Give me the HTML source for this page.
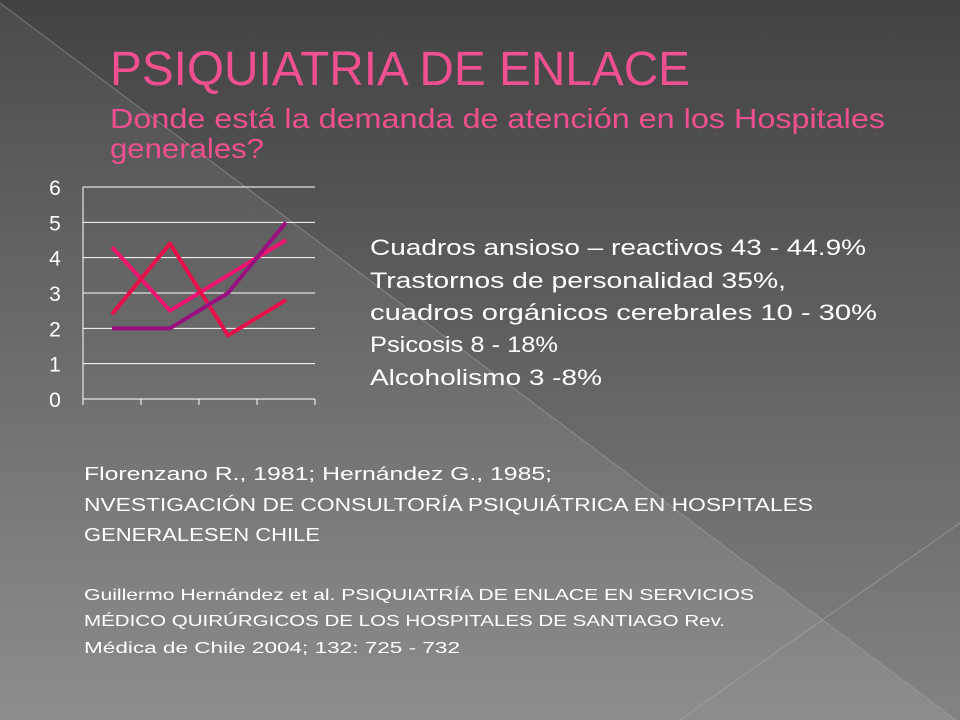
<!DOCTYPE html>
<html><head><meta charset="utf-8"><style>
html,body{margin:0;padding:0;width:960px;height:720px;overflow:hidden;}
body{font-family:"Liberation Sans","DejaVu Sans",sans-serif;}
</style></head><body>
<svg width="960" height="720" viewBox="0 0 960 720" xmlns="http://www.w3.org/2000/svg">
<defs>
<linearGradient id="bg" x1="0" y1="0" x2="0" y2="1">
<stop offset="0" stop-color="#464646"/><stop offset="1" stop-color="#8a8a8a"/>
</linearGradient>
</defs>
<rect width="960" height="720" fill="url(#bg)"/>
<polygon points="0,3 960,723 0,720" fill="#ffffff" opacity="0.03"/>
<polygon points="0,0 960,0 960,723 0,3" fill="#000" opacity="0.05"/>
<line x1="0" y1="3" x2="960" y2="723" stroke="#a8a8a8" stroke-width="1" opacity="0.5"/>
<line x1="960" y1="523" x2="680" y2="720" stroke="#b0b0b0" stroke-width="1" opacity="0.5"/>

<g fill="#f0508f">
<text x="110" y="85" font-size="48" textLength="580" lengthAdjust="spacingAndGlyphs">PSIQUIATRIA DE ENLACE</text>
<text x="110" y="128" font-size="28" textLength="775" lengthAdjust="spacingAndGlyphs">Donde está la demanda de atención en los Hospitales</text>
<text x="110" y="158" font-size="28" textLength="154" lengthAdjust="spacingAndGlyphs">generales?</text>
</g>

<g id="chart"></g>

<g fill="#ffffff" font-size="22">
<text x="370" y="255" textLength="496" lengthAdjust="spacingAndGlyphs">Cuadros ansioso – reactivos 43 - 44.9%</text>
<text x="370" y="288" textLength="416" lengthAdjust="spacingAndGlyphs">Trastornos de personalidad 35%,</text>
<text x="370" y="320" textLength="507" lengthAdjust="spacingAndGlyphs">cuadros orgánicos cerebrales 10 -  30%</text>
<text x="370" y="352" textLength="188" lengthAdjust="spacingAndGlyphs">Psicosis 8 - 18%</text>
<text x="370" y="385" textLength="232" lengthAdjust="spacingAndGlyphs">Alcoholismo 3 -8%</text>
</g>

<g fill="#ffffff" font-size="18">
<text x="84" y="480" textLength="468" lengthAdjust="spacingAndGlyphs">Florenzano R., 1981; Hernández G., 1985;</text>
<text x="84" y="511" textLength="729" lengthAdjust="spacingAndGlyphs">NVESTIGACIÓN DE CONSULTORÍA PSIQUIÁTRICA EN HOSPITALES</text>
<text x="84" y="541" textLength="236" lengthAdjust="spacingAndGlyphs">GENERALESEN CHILE</text>
</g>
<g fill="#ffffff" font-size="16">
<text x="84" y="600" textLength="670" lengthAdjust="spacingAndGlyphs">Guillermo Hernández et al. PSIQUIATRÍA DE ENLACE EN SERVICIOS</text>
<text x="84" y="626" textLength="641" lengthAdjust="spacingAndGlyphs">MÉDICO QUIRÚRGICOS DE LOS HOSPITALES DE SANTIAGO Rev.</text>
<text x="84" y="653" textLength="376" lengthAdjust="spacingAndGlyphs">Médica de Chile 2004; 132: 725 - 732</text>
</g>
</svg>
<script>
const categories = ["C1","C2","C3","C4"];
const seriesPink = [4.3, 2.5, 3.5, 4.5];
const seriesRed = [2.4, 4.4, 1.8, 2.8];
const seriesPurple = [2.0, 2.0, 3.0, 5.0];
const yTicks = ["0","1","2","3","4","5","6"];

const NS = "http://www.w3.org/2000/svg";
const g = document.getElementById("chart");
const X0 = 83, X1 = 315, Y0 = 399, Y1 = 187, YMAX = 6;
const band = (X1 - X0) / categories.length;
const xPos = i => X0 + band * (i + 0.5);
const yPos = v => Y0 - (v / YMAX) * (Y0 - Y1);
function mk(tag, attrs){ const e = document.createElementNS(NS, tag); for (const k in attrs) e.setAttribute(k, attrs[k]); g.appendChild(e); return e; }

yTicks.forEach((t, i) => {
  const v = +t, y = yPos(v);
  const gl = mk("line", {x1: X0, x2: X1, y1: y, y2: y, stroke: "#ffffff", "stroke-width": 1});
  
  
  const lb = mk("text", {x: 55, y: y + 8, "font-size": 21, fill: "#ffffff", "text-anchor": "middle"});
  lb.textContent = t;
  
  
});
const ax = mk("line", {x1: X0, x2: X0, y1: Y1, y2: Y0 + 6, stroke: "#ffffff", "stroke-width": 1});


for (let i = 0; i <= categories.length; i++) {
  const x = X0 + band * i;
  const tk = mk("line", {x1: x, x2: x, y1: Y0, y2: Y0 + 6, stroke: "#ffffff", "stroke-width": 1});
  
  
}
function drawSeries(vals, color, name){
  const pts = vals.map((v, i) => xPos(i) + "," + yPos(v)).join(" ");
  const pl = mk("polyline", {points: pts, fill: "none", stroke: color, "stroke-width": 4, "stroke-linejoin": "round"});
  
  
}
drawSeries(seriesPink, "#f0136f", "series-pink-line");
drawSeries(seriesRed, "#e8104a", "series-red-line");
drawSeries(seriesPurple, "#9a0f80", "series-purple-line");
</script>
</body></html>
